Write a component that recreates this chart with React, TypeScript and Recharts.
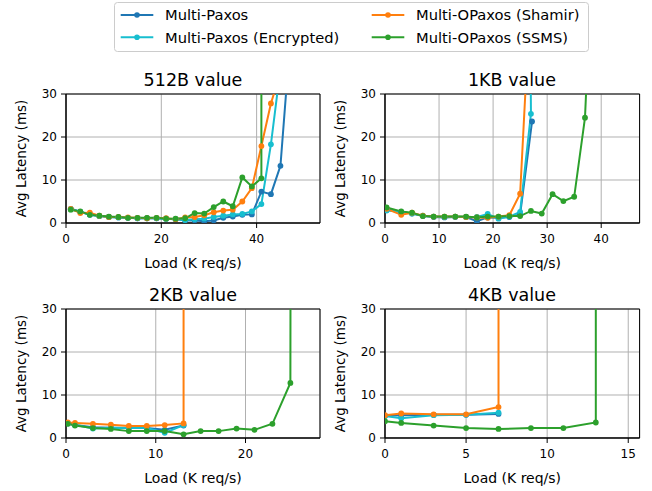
import React from 'react'
import { LineChart, Line, XAxis, YAxis, CartesianGrid, ReferenceArea } from 'recharts'

const FONT = '"DejaVu Sans", sans-serif'

const SERIES_NAMES = ['Multi-Paxos', 'Multi-Paxos (Encrypted)', 'Multi-OPaxos (Shamir)', 'Multi-OPaxos (SSMS)']
const SERIES_COLORS = ['#1f77b4', '#17becf', '#ff7f0e', '#2ca02c']

const LATENCY_TICKS = [0, 10, 20, 30]

// ── 512B value ──────────────────────────────────────────────────────────────
const X512_PAXOS = [1, 3, 5, 7, 9, 11, 13, 15, 17, 19, 21, 23, 25, 27, 29, 31, 33, 35, 37, 39, 41, 43, 45, 47]
const Y512_PAXOS = [3.3, 2.6, 1.9, 1.6, 1.4, 1.3, 1.2, 1.1, 1.1, 1.1, 1.0, 0.9, 0.6, 0.6, 0.4, 0.6, 1.2, 1.5, 1.9, 2.0, 7.3, 6.7, 13.3, 42]
const X512_ENC = [1, 3, 5, 7, 9, 11, 13, 15, 17, 19, 21, 23, 25, 27, 29, 31, 33, 35, 37, 39, 41, 43, 45]
const Y512_ENC = [3.2, 2.6, 2.0, 1.6, 1.4, 1.3, 1.2, 1.1, 1.1, 1.1, 1.0, 0.9, 0.7, 0.9, 1.0, 1.4, 1.7, 2.0, 2.1, 2.7, 4.4, 18.3, 36]
const X512_SHAMIR = [1, 3, 5, 7, 9, 11, 13, 15, 17, 19, 21, 23, 25, 27, 29, 31, 33, 35, 37, 39, 41, 43, 45]
const Y512_SHAMIR = [3.3, 2.3, 2.4, 1.7, 1.4, 1.4, 1.3, 1.2, 1.1, 1.2, 1.1, 0.9, 1.3, 1.4, 1.8, 2.5, 2.9, 3.1, 5.0, 8.1, 17.9, 27.8, 35]
const X512_SSMS = [1, 3, 5, 7, 9, 11, 13, 15, 17, 19, 21, 23, 25, 27, 29, 31, 33, 35, 37, 39, 41, 41]
const Y512_SSMS = [3.1, 2.7, 1.9, 1.7, 1.5, 1.4, 1.2, 1.2, 1.2, 1.2, 1.0, 1.0, 1.1, 2.3, 2.2, 3.7, 5.0, 3.9, 10.6, 8.5, 10.4, 100]

// ── 1KB value ───────────────────────────────────────────────────────────────
const X1K_PAXOS = [0.3, 3, 5, 7, 9, 11, 13, 15, 17, 19, 21, 23, 25, 27.2]
const Y1K_PAXOS = [3.2, 2.5, 2.2, 1.6, 1.4, 1.3, 1.4, 1.4, 0.4, 1.3, 1.2, 1.4, 2.0, 23.6]
const X1K_ENC = [0.3, 3, 5, 7, 9, 11, 13, 15, 17, 19, 21, 23, 25, 27, 26.8]
const Y1K_ENC = [2.9, 2.6, 2.2, 1.7, 1.5, 1.4, 1.5, 1.4, 1.4, 2.1, 1.0, 1.5, 2.6, 25.4, 60]
const X1K_SHAMIR = [0.3, 3, 5, 7, 9, 11, 13, 15, 17, 19, 21, 23, 25, 26.9]
const Y1K_SHAMIR = [3.3, 1.9, 2.4, 1.7, 1.5, 1.5, 1.5, 1.4, 1.3, 1.2, 1.5, 1.8, 6.8, 53]
const X1K_SSMS = [0.3, 3, 5, 7, 9, 11, 13, 15, 17, 19, 21, 23, 25, 27, 29, 31, 33, 35, 37, 39]
const Y1K_SSMS = [3.6, 2.7, 2.4, 1.6, 1.5, 1.5, 1.5, 1.5, 1.3, 1.5, 1.5, 1.6, 1.6, 2.8, 2.2, 6.7, 5.1, 6.1, 24.5, 82]

// ── 2KB value ───────────────────────────────────────────────────────────────
const X2K = [0.2, 1, 3, 5, 7, 9, 11, 13.1]
const Y2K_PAXOS = [3.4, 3.0, 2.5, 2.4, 2.3, 2.3, 1.9, 2.9]
const Y2K_ENC = [3.4, 3.1, 2.2, 2.4, 2.3, 2.3, 1.2, 3.0]
const X2K_SHAMIR = [0.2, 1, 3, 5, 7, 9, 11, 13.1, 13.1]
const Y2K_SHAMIR = [3.6, 3.5, 3.3, 3.1, 2.8, 2.8, 3.0, 3.4, 100]
const X2K_SSMS = [0.2, 1, 3, 5, 7, 9, 11, 13.1, 15, 17, 19, 21, 23, 25, 25.05]
const Y2K_SSMS = [3.3, 2.9, 2.3, 2.1, 1.6, 1.6, 1.6, 0.85, 1.6, 1.6, 2.2, 1.9, 3.3, 12.8, 100]

// ── 4KB value ───────────────────────────────────────────────────────────────
const X4K = [0, 1, 3, 5, 7]
const Y4K_PAXOS = [5.2, 5.3, 5.4, 5.4, 5.6]
const Y4K_ENC = [5.1, 4.6, 5.3, 5.4, 5.9]
const X4K_SHAMIR = [0, 1, 3, 5, 7, 7]
const Y4K_SHAMIR = [5.3, 5.7, 5.5, 5.5, 7.2, 100]
const X4K_SSMS = [0, 1, 3, 5, 7, 9, 11, 13, 13]
const Y4K_SSMS = [3.9, 3.5, 2.9, 2.3, 2.1, 2.3, 2.3, 3.6, 100]

type Series = { x: number[]; y: number[] }

const pts = (s: Series) => s.x.map((x, i) => ({ x, y: s.y[i] }))

interface PanelProps {
  title: string
  left: number
  top: number
  width: number
  xMax: number
  xTicks: number[]
  series: Series[]
}

function Panel({ title, left, top, width, xMax, xTicks, series }: PanelProps) {
  const H = 220
  const tickStyle = { fill: '#000', fontSize: 12 }
  return (
    <div style={{ position: 'absolute', left, top, width, height: H }}>
      <div style={{
        position: 'absolute', left: 66, width: width - 76, top: 9.7,
        textAlign: 'center', fontSize: 17.5, lineHeight: 'normal', color: '#000',
      }}>
        {title}
      </div>
      <LineChart width={width} height={H} margin={{ top: 34, right: 10, bottom: 12, left: 0 }}>
        <CartesianGrid stroke="#b0b0b0" strokeWidth={1} />
        <XAxis
          dataKey="x" type="number" domain={[0, xMax]} ticks={xTicks} allowDataOverflow
          height={45} tickSize={5} tickMargin={6} tick={tickStyle} stroke="#000"
          label={{ value: 'Load (K req/s)', position: 'insideBottom', offset: 0, fill: '#000', fontSize: 14 }}
        />
        <YAxis
          type="number" domain={[0, 30]} ticks={LATENCY_TICKS} allowDataOverflow
          width={66} tickSize={5} tickMargin={4} tick={tickStyle} stroke="#000"
          label={{ value: 'Avg Latency (ms)', angle: -90, position: 'insideLeft', offset: 21.5, fill: '#000', fontSize: 13.5, style: { textAnchor: 'middle' } }}
        />
        <ReferenceArea x1={0} x2={xMax} y1={0} y2={30} fill="none" stroke="#000" strokeWidth={1} />
        {series.map((s, i) => (
          <Line
            key={SERIES_NAMES[i]} data={pts(s)} dataKey="y" type="linear"
            stroke={SERIES_COLORS[i]} strokeWidth={2}
            dot={{ r: 2.9, fill: SERIES_COLORS[i], stroke: 'none' }}
            activeDot={false} isAnimationActive={false}
          />
        ))}
      </LineChart>
    </div>
  )
}

function FigureLegend() {
  const rows = [15, 37.3]
  const cols = [120.7, 371.7]
  return (
    <svg width={652} height={56} style={{ position: 'absolute', left: 0, top: 0 }}>
      <rect x={114.5} y={2.5} width={474} height={49} rx={3} fill="#fff" stroke="#cccccc" />
      {SERIES_NAMES.map((name, i) => {
        const cx = cols[Math.floor(i / 2)]
        const cy = rows[i % 2]
        return (
          <g key={name}>
            <line x1={cx} x2={cx + 32.6} y1={cy} y2={cy} stroke={SERIES_COLORS[i]} strokeWidth={2} />
            <circle cx={cx + 16.3} cy={cy} r={2.8} fill={SERIES_COLORS[i]} />
            <text x={cx + 44.3} y={cy + 5.2} fontSize={14.7} fill="#000">{name}</text>
          </g>
        )
      })}
    </svg>
  )
}

export default function App() {
  return (
    <div style={{ position: 'relative', width: 652, height: 491, overflow: 'hidden', background: '#fff', fontFamily: FONT }}>
      <style>{'body{margin:0}'}</style>
      <FigureLegend />
      <Panel
        title="512B value" left={0} top={60.3} width={330} xMax={53.3} xTicks={[0, 20, 40]}
        series={[
          { x: X512_PAXOS, y: Y512_PAXOS },
          { x: X512_ENC, y: Y512_ENC },
          { x: X512_SHAMIR, y: Y512_SHAMIR },
          { x: X512_SSMS, y: Y512_SSMS },
        ]}
      />
      <Panel
        title="1KB value" left={318.7} top={60.3} width={330.6} xMax={47.1} xTicks={[0, 10, 20, 30, 40]}
        series={[
          { x: X1K_PAXOS, y: Y1K_PAXOS },
          { x: X1K_ENC, y: Y1K_ENC },
          { x: X1K_SHAMIR, y: Y1K_SHAMIR },
          { x: X1K_SSMS, y: Y1K_SSMS },
        ]}
      />
      <Panel
        title="2KB value" left={0} top={275.3} width={330} xMax={28.3} xTicks={[0, 10, 20]}
        series={[
          { x: X2K, y: Y2K_PAXOS },
          { x: X2K, y: Y2K_ENC },
          { x: X2K_SHAMIR, y: Y2K_SHAMIR },
          { x: X2K_SSMS, y: Y2K_SSMS },
        ]}
      />
      <Panel
        title="4KB value" left={318.7} top={275.3} width={330.6} xMax={15.7} xTicks={[0, 5, 10, 15]}
        series={[
          { x: X4K, y: Y4K_PAXOS },
          { x: X4K, y: Y4K_ENC },
          { x: X4K_SHAMIR, y: Y4K_SHAMIR },
          { x: X4K_SSMS, y: Y4K_SSMS },
        ]}
      />
    </div>
  )
}
